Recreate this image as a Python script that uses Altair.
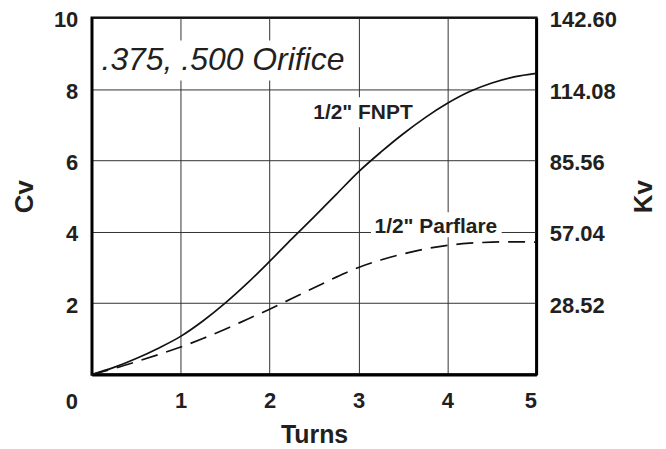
import altair as alt
import pandas as pd

# ---- data ----
turns = [0, 0.25, 0.5, 0.75, 1, 1.25, 1.5, 1.75, 2, 2.25, 2.5, 2.75, 3, 3.25, 3.5, 3.75, 4, 4.25, 4.5, 4.75, 5]
cv_fnpt = [0, 0.2, 0.45, 0.74, 1.07, 1.5, 2.0, 2.56, 3.17, 3.8, 4.42, 5.05, 5.68, 6.23, 6.74, 7.2, 7.6, 7.93, 8.17, 8.34, 8.44]
cv_parflare = [0, 0.17, 0.36, 0.56, 0.77, 1.01, 1.27, 1.55, 1.83, 2.13, 2.43, 2.73, 3.0, 3.21, 3.38, 3.52, 3.62, 3.68, 3.71, 3.72, 3.71]
x_ticks = [1, 2, 3, 4, 5]
y_ticks = [2, 4, 6, 8, 10]
kv_factor = 14.26
label_texts = ['1/2" FNPT', '1/2" Parflare']
title_text = ".375, .500 Orifice"

df_fnpt = pd.DataFrame({"turns": turns, "cv": cv_fnpt})
df_par = pd.DataFrame({"turns": turns, "cv": cv_parflare})

FONT = "Liberation Sans"
TXT = "#231f20"
GRID = "#333"

x_axis = alt.Axis(values=x_ticks, grid=True, gridColor=GRID, gridWidth=1, ticks=False,
                  labelPadding=16, labelFont=FONT, labelFontSize=22, labelFontWeight="bold",
                  labelColor=TXT, title="Turns", titleFont=FONT, titleFontSize=25,
                  titleFontWeight="bold", titleColor=TXT, titlePadding=11,
                  domainColor="black", domainWidth=3)
y_axis = alt.Axis(values=y_ticks, grid=True, gridColor=GRID, gridWidth=1, ticks=False,
                  labelPadding=14, labelOffset=2, labelFont=FONT, labelFontSize=22,
                  labelFontWeight="bold", labelColor=TXT, title="Cv", titleFont=FONT,
                  titleFontSize=26, titleFontWeight="bold", titleColor=TXT, titlePadding=16,
                  domainColor="black", domainWidth=2.5)
y_axis_r = alt.Axis(values=y_ticks, orient="right", grid=False, ticks=False,
                    labelPadding=13, labelOffset=2, labelFont=FONT, labelFontSize=22,
                    labelFontWeight="bold", labelColor=TXT,
                    labelExpr=f"format(datum.value * {kv_factor}, '.2f')",
                    title="Kv", titleFont=FONT, titleFontSize=26, titleAngle=270,
                    titleBaseline="top",
                    titleFontWeight="bold", titleColor=TXT, titlePadding=14,
                    domainColor="black", domainWidth=2.5)

xs = alt.Scale(domain=[0, 5], nice=False, zero=False)
ys = alt.Scale(domain=[0, 10], nice=False)

def X(f):
    return alt.X(f, type="quantitative", scale=xs, axis=x_axis)

def Y(f):
    return alt.Y(f, type="quantitative", scale=ys, axis=y_axis)

# white boxes behind annotations (interrupt grid lines)
boxes = pd.DataFrame({
    "x1": [0.06, 2.42, 3.14], "x2": [2.89, 3.68, 4.61],
    "y1": [8.24, 6.93, 3.85], "y2": [9.36, 7.77, 4.55],
})
rects = alt.Chart(boxes).mark_rect(color="white").encode(
    x=X("x1"), x2="x2", y=Y("y1"), y2="y2")

solid = alt.Chart(df_fnpt).mark_line(color="#111", strokeWidth=1.7, interpolate="monotone").encode(
    x=X("turns"), y=Y("cv"))
dashed = alt.Chart(df_par).mark_line(color="#111", strokeWidth=1.7, strokeDash=[17, 9],
                                     interpolate="monotone").encode(x=X("turns"), y=Y("cv"))

lab_df = pd.DataFrame({"t": label_texts, "x": [3.05, 3.87], "y": [7.32, 4.13]})
labels = alt.Chart(lab_df).mark_text(font=FONT, fontSize=21, fontWeight="bold", color=TXT,
                                     align="center", baseline="middle").encode(
    x=X("x"), y=Y("y"), text="t")

ttl_df = pd.DataFrame({"t": [title_text], "x": [0.11], "y": [8.8]})
ttl = alt.Chart(ttl_df).mark_text(font=FONT, fontSize=32, fontStyle="italic", color=TXT,
                                  align="left", baseline="middle").encode(
    x=X("x"), y=Y("y"), text="t")

zero_df = pd.DataFrame({"t": ["0"], "x": [0], "y": [0]})
zero = alt.Chart(zero_df).mark_text(font=FONT, fontSize=22, fontWeight="bold", color=TXT,
                                    align="center", baseline="middle", dx=-20, dy=28).encode(
    x=X("x"), y=Y("y"), text="t")

left = alt.layer(rects, solid, dashed, labels, ttl, zero)

right = alt.Chart(df_fnpt).mark_line(opacity=0).encode(
    x=X("turns"), y=alt.Y("cv", type="quantitative", scale=ys, axis=y_axis_r))

chart = alt.layer(left, right).resolve_scale(y="independent").properties(
    width=446, height=358,
    autosize=alt.AutoSizeParams(type="none"),
    padding={"left": 84, "top": 9, "right": 122, "bottom": 74},
).configure_view(stroke="black", strokeWidth=2.5)

chart.save("out.html", embed_options={"renderer": "svg", "actions": False})
